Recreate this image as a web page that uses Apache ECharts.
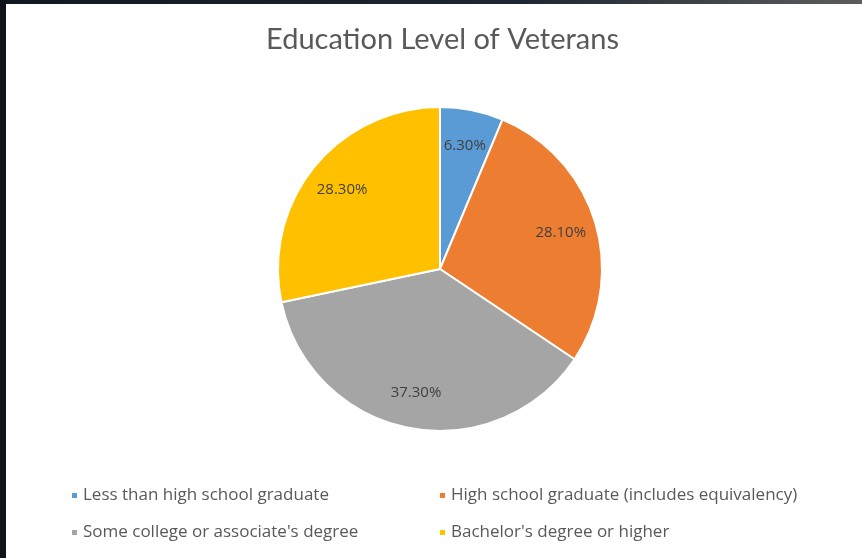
<!DOCTYPE html>
<html>
<head>
<meta charset="utf-8">
<script src="https://cdn.jsdelivr.net/npm/echarts@6/dist/echarts.min.js"></script>
<style>
  html, body { margin: 0; padding: 0; }
  body {
    width: 862px; height: 558px; overflow: hidden;
    background: linear-gradient(90deg, #121820 0%, #1e2632 60%, #5c5c5c 100%);
  }
  #side { position: absolute; left: 0; top: 0; width: 6px; height: 558px; background: #0f141a; }
  #chart { position: absolute; left: 6px; top: 4px; width: 856px; height: 554px; background: #fff; }
</style>
</head>
<body>
<div id="side"></div>
<div id="chart"></div>
<script>
const categories = [
  'Less than high school graduate',
  'High school graduate (includes equivalency)',
  'Some college or associate\'s degree',
  'Bachelor\'s degree or higher',
];
const shares = [6.3, 28.1, 37.3, 28.3];
const sliceColors = ['#5b9bd5', '#ed7d31', '#a5a5a5', '#ffc000'];

const chart = echarts.init(document.getElementById('chart'));

const pieData = categories.map((name, i) => ({
  name,
  value: shares[i],
  itemStyle: { color: sliceColors[i] },
}));

// The label ring is an invisible, larger pie so 'inside' labels land near the rim
// like Excel's best-fit labels.
const R = 162;
const center = [434, 265];

const legendText = { color: '#595959', fontSize: 17, fontFamily: 'Open Sans' };

chart.setOption({
  animation: false,
  title: {
    text: 'Education Level of Veterans',
    left: 255,
    top: 16,
    textStyle: {
      color: '#595959',
      fontSize: 29,
      fontWeight: 'normal',
      fontFamily: 'Lato',
    },
  },
  legend: [
    {
      data: [categories[0], categories[2]],
      orient: 'vertical',
      left: 59,
      top: 478,
      itemWidth: 7,
      itemHeight: 7,
      itemGap: 20,
      icon: 'rect',
      textStyle: legendText,
      selectedMode: false,
    },
    {
      data: [categories[1], categories[3]],
      orient: 'vertical',
      left: 427,
      top: 478,
      itemWidth: 7,
      itemHeight: 7,
      itemGap: 20,
      icon: 'rect',
      textStyle: legendText,
      selectedMode: false,
    },
  ],
  series: [
    {
      name: 'Education',
      type: 'pie',
      center,
      radius: [0, R],
      startAngle: 90,
      clockwise: true,
      data: pieData,
      label: { show: false },
      labelLine: { show: false },
      itemStyle: { borderColor: '#fff', borderWidth: 2 },
      silent: true,
    },
    {
      name: 'Labels',
      type: 'pie',
      center,
      radius: [0, R * 1.52],
      startAngle: 90,
      clockwise: true,
      data: pieData.map((d) => ({ name: d.name, value: d.value })),
      itemStyle: { color: 'rgba(0,0,0,0)' },
      label: {
        show: true,
        position: 'inside',
        formatter: (p) => p.value.toFixed(2) + '%',
        color: '#404040',
        fontSize: 15,
        fontFamily: 'Open Sans',
      },
      labelLine: { show: false },
      silent: true,
      z: 3,
    },
  ],
});
</script>
</body>
</html>
